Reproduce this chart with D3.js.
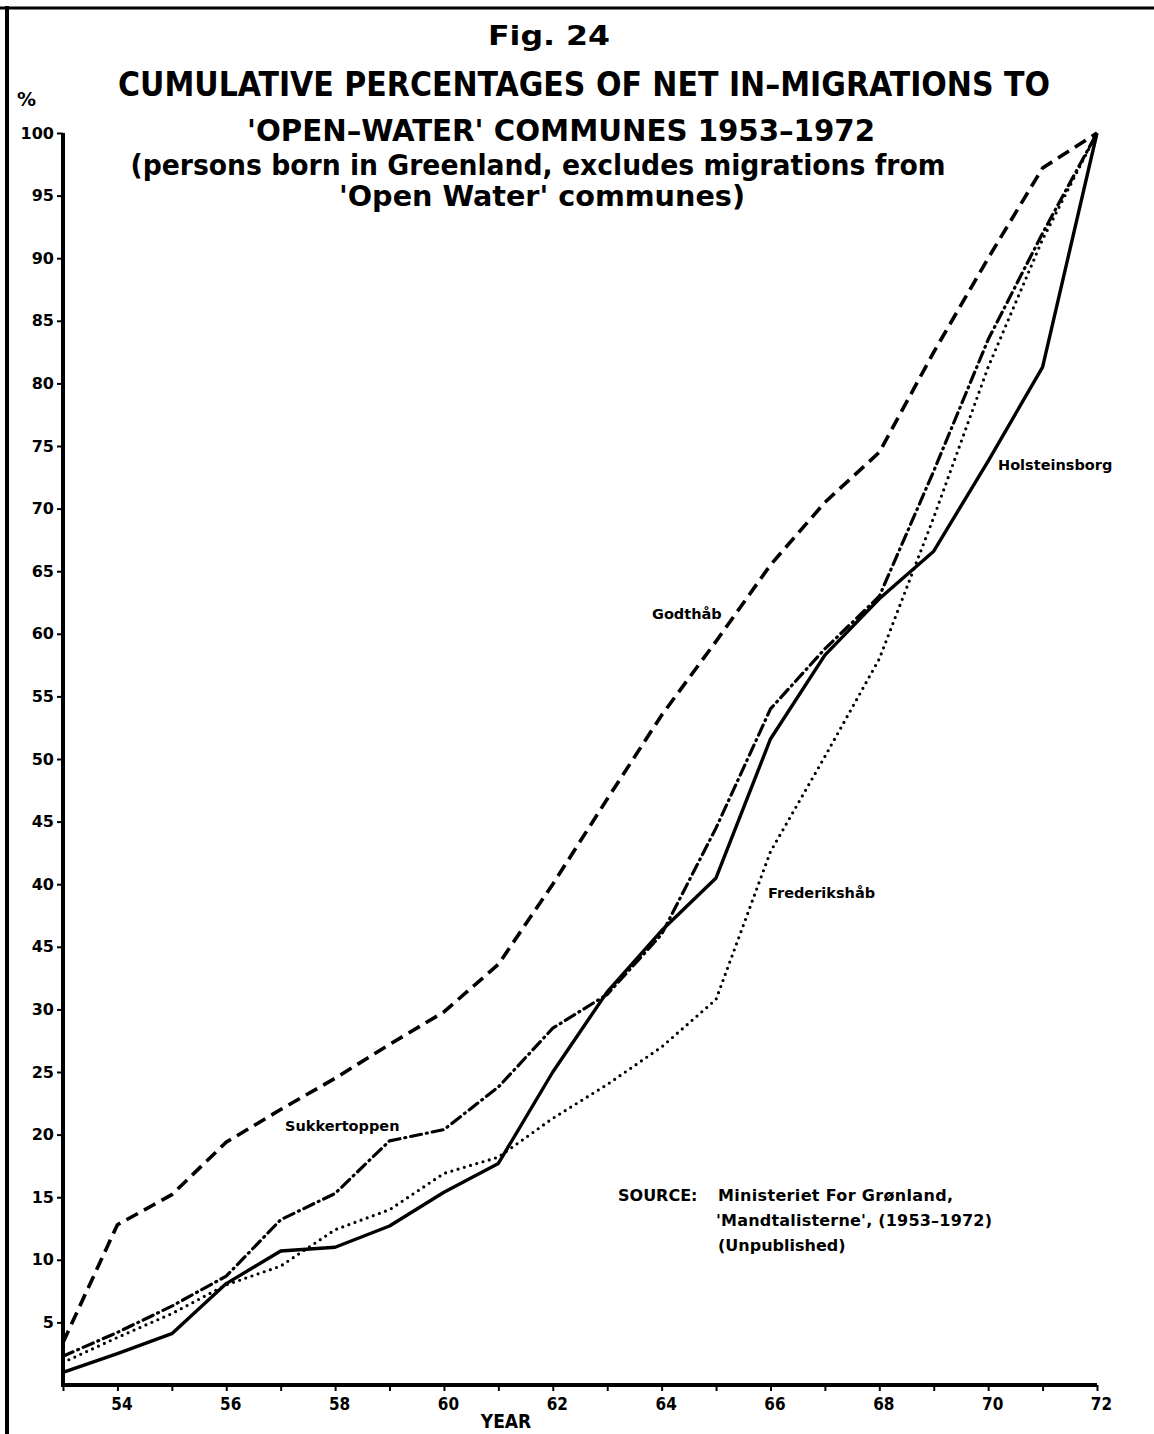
<!DOCTYPE html>
<html>
<head>
<meta charset="utf-8">
<script src="https://cdn.jsdelivr.net/npm/d3@7"></script>
<style>
  body { margin: 0; background: #fff; }
  svg { display: block; }
  .lbl { font-family: "DejaVu Sans", sans-serif; font-weight: bold; fill: #000; }
  .ttl { font-family: "DejaVu Sans Condensed", "DejaVu Sans", sans-serif; font-weight: bold; fill: #000; }
</style>
</head>
<body>
<svg id="chart" width="1154" height="1434"></svg>
<script>
// data (cumulative %)
let years = d3.range(1953, 1973)
let godthab = [3.4, 12.8, 15.2, 19.4, 22.0, 24.5, 27.2, 29.8, 33.6, 40.0, 46.8, 53.5, 59.4, 65.5, 70.5, 74.5, 82.5, 90.0, 97.2, 100]
let sukkertoppen = [2.3, 4.2, 6.3, 8.7, 13.2, 15.3, 19.5, 20.4, 23.8, 28.5, 31.2, 36.0, 44.5, 54.0, 58.8, 63.0, 73.0, 83.5, 92.0, 100]
let holsteinsborg = [1.0, 2.5, 4.1, 8.1, 10.7, 11.0, 12.7, 15.4, 17.7, 25.0, 31.4, 36.3, 40.5, 51.6, 58.3, 62.8, 66.6, 73.8, 81.3, 100]
let frederikshab = [1.8, 3.8, 5.7, 8.0, 9.5, 12.4, 14.0, 16.9, 18.2, 21.3, 24.0, 27.0, 30.8, 42.6, 50.2, 58.0, 69.3, 81.3, 91.5, 100]

let yTicks = d3.range(5, 101, 5)
// the original figure prints "45" at the 35 tick
let yTickLabels = ["5", "10", "15", "20", "25", "30", "45", "40", "45", "50", "55", "60", "65", "70", "75", "80", "85", "90", "95", "100"]
let xLabelYears = [1954, 1956, 1958, 1960, 1962, 1964, 1966, 1968, 1970, 1972]

let width = 1154
let height = 1434
let margin = { top: 133, right: 57, bottom: 49, left: 63 }

let svg = d3.select("#chart")

svg.append("rect").attr("width", width).attr("height", height).attr("fill", "#fff")

// frame of the old plate
svg.append("line").attr("x1", 0).attr("x2", width).attr("y1", 8).attr("y2", 8)
  .style("stroke", "#000").style("stroke-width", 3)
svg.append("line").attr("x1", 7).attr("x2", 7).attr("y1", 6).attr("y2", height)
  .style("stroke", "#000").style("stroke-width", 4)

let x = d3.scaleLinear()
  .domain([1953, 1972])
  .range([margin.left, width - margin.right])

let y = d3.scaleLinear()
  .domain([0, 100])
  .range([height - margin.bottom, margin.top])

// axes
let yAxisSettings = d3.axisLeft(y)
  .tickValues(yTicks)
  .tickSize(6)
  .tickPadding(3)
  .tickFormat((d, i) => yTickLabels[i])

let yAxisG = svg.append("g")
  .attr("transform", `translate(${margin.left},0)`)
  .call(yAxisSettings)
yAxisG.select(".domain").remove()
yAxisG.selectAll("line").style("stroke", "#000").style("stroke-width", 2)
yAxisG.selectAll("text")
  .style("font-size", "16px")
  .style("font-family", "'DejaVu Sans', sans-serif")
  .style("font-weight", "bold")

svg.append("line")
  .attr("x1", margin.left).attr("x2", margin.left)
  .attr("y1", y(100)).attr("y2", y(0) + 2)
  .style("stroke", "#000").style("stroke-width", 4)

let xAxisSettings = d3.axisBottom(x)
  .tickValues(years)
  .tickSize(6)
  .tickPadding(7)
  .tickFormat(d => xLabelYears.includes(d) ? String(d).slice(2) : "")

let xAxisG = svg.append("g")
  .attr("transform", `translate(0,${y(0)})`)
  .call(xAxisSettings)
xAxisG.select(".domain").remove()
xAxisG.selectAll("line").style("stroke", "#000").style("stroke-width", 2)
xAxisG.selectAll("text")
  .style("font-size", "17px")
  .style("font-family", "'DejaVu Sans Condensed', sans-serif")
  .style("font-weight", "bold")
  .attr("dx", 4)

svg.append("line")
  .attr("x1", margin.left - 2).attr("x2", x(1972))
  .attr("y1", y(0)).attr("y2", y(0))
  .style("stroke", "#000").style("stroke-width", 4)

// series
let line = d3.line()
  .x((d, i) => x(years[i]))
  .y(d => y(d))

let series = [
  { name: "Godthåb", values: godthab, dash: "13,7", w: 3.6, cap: "butt" },
  { name: "Sukkertoppen", values: sukkertoppen, dash: "11,5,1,5", w: 3.2, cap: "round" },
  { name: "Holsteinsborg", values: holsteinsborg, dash: null, w: 3.4, cap: "butt" },
  { name: "Frederikshåb", values: frederikshab, dash: "0,6.5", w: 3.2, cap: "round" }
]

svg.selectAll(".series")
  .data(series)
  .join("path")
  .attr("class", "series")
  .attr("d", d => line(d.values))
  .style("fill", "none")
  .style("stroke", "#000")
  .style("stroke-width", d => d.w)
  .style("stroke-dasharray", d => d.dash)
  .style("stroke-linecap", d => d.cap)
  .style("stroke-linejoin", "round")

// series labels
function seriesLabel(text, lx, ly) {
  svg.append("text")
    .attr("class", "lbl")
    .attr("x", lx)
    .attr("y", ly)
    .text(text)
    .style("font-size", "14.5px")
}
seriesLabel("Godthåb", 652, 619)
seriesLabel("Sukkertoppen", 285, 1131)
seriesLabel("Holsteinsborg", 998, 470)
seriesLabel("Frederikshåb", 768, 898)

// titles
function title(text, cx, cy, size, len) {
  svg.append("text")
    .attr("class", "ttl")
    .attr("x", cx)
    .attr("y", cy)
    .attr("text-anchor", "middle")
    .attr("textLength", len)
    .attr("lengthAdjust", "spacingAndGlyphs")
    .style("font-size", size + "px")
    .text(text)
}
title("Fig. 24", 549, 45, 27, 122)
title("CUMULATIVE PERCENTAGES OF NET IN\u2013MIGRATIONS TO", 584, 96, 33, 932)
title("'OPEN\u2013WATER' COMMUNES  1953\u20131972", 561, 141, 31, 628)
title("(persons born in Greenland, excludes migrations from", 538, 175, 28, 815)
title("'Open Water'  communes)", 542, 206, 28, 406)

svg.append("text")
  .attr("class", "lbl")
  .attr("x", 17).attr("y", 106)
  .style("font-size", "19px")
  .text("%")

svg.append("text")
  .attr("class", "ttl")
  .attr("x", 506).attr("y", 1428)
  .attr("text-anchor", "middle")
  .style("font-size", "19px")
  .text("YEAR")

// source note
let src = svg.append("g").attr("class", "lbl").style("font-size", "16px")
src.append("text").attr("x", 618).attr("y", 1201).text("SOURCE:")
src.append("text").attr("x", 718).attr("y", 1201).attr("textLength", 235).text("Ministeriet  For  Grønland,")
src.append("text").attr("x", 716).attr("y", 1226).attr("textLength", 276).text("'Mandtalisterne', (1953\u20131972)")
src.append("text").attr("x", 718).attr("y", 1251).text("(Unpublished)")
</script>
</body>
</html>
